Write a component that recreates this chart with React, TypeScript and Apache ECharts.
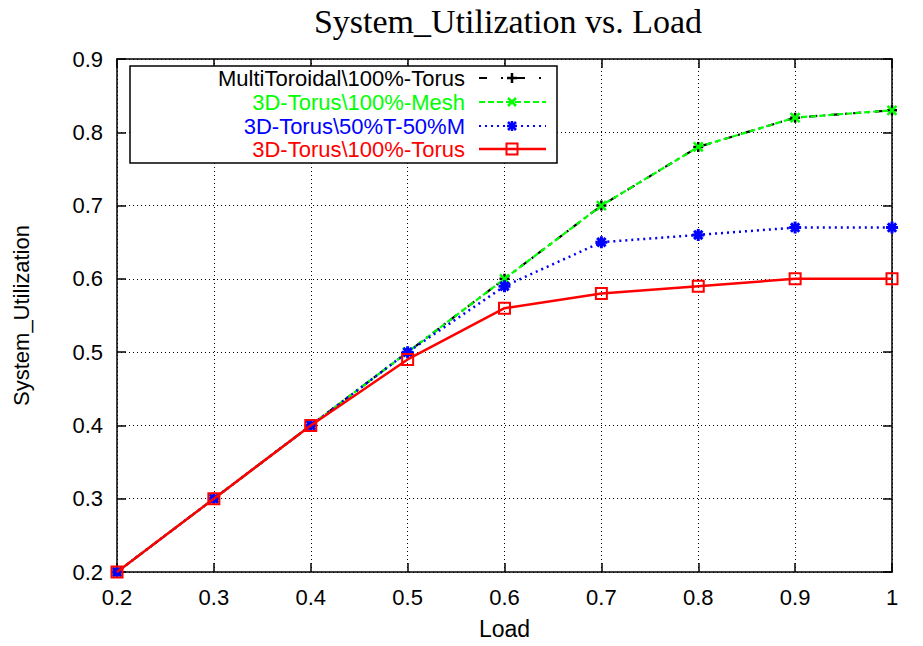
import React, { useEffect, useRef } from "react";
import * as echarts from "echarts";

const loads = [0.2, 0.3, 0.4, 0.5, 0.6, 0.7, 0.8, 0.9, 1.0];
const multiToroidal = [0.2, 0.3, 0.4, 0.5, 0.6, 0.7, 0.78, 0.82, 0.83];
const torusMesh = [0.2, 0.3, 0.4, 0.5, 0.6, 0.7, 0.78, 0.82, 0.83];
const torusHalf = [0.2, 0.3, 0.4, 0.5, 0.59, 0.65, 0.66, 0.67, 0.67];
const torusTorus = [0.2, 0.3, 0.4, 0.49, 0.56, 0.58, 0.59, 0.6, 0.6];
const seriesNames = [
  "MultiToroidal\\100%-Torus",
  "3D-Torus\\100%-Mesh",
  "3D-Torus\\50%T-50%M",
  "3D-Torus\\100%-Torus",
];
const seriesColors = ["#000000", "#00ff00", "#0000ff", "#ff0000"];
const titleText = "System_Utilization vs. Load";
const xName = "Load";
const yName = "System_Utilization";

const PLUS = "path://M0,5L10,5M5,0L5,10";
const CROSS = "path://M0,0L10,10M0,10L10,0";
const STAR = "path://M0,5L10,5M5,0L5,10M1.5,1.5L8.5,8.5M1.5,8.5L8.5,1.5";

const SANS = "Liberation Sans";
const FS = 22;

export default function App() {
  const ref = useRef<HTMLDivElement>(null);
  useEffect(() => {
    document.body.style.margin = "0";
    const chart = echarts.init(ref.current!, null, { renderer: "svg" });
    const mk = (arr: number[]) => loads.map((x, i) => [x, arr[i]]);
    const fmt = (v: number) => String(Math.round(v * 10) / 10);

    const axisCommon = {
      type: "value" as const,
      min: 0.2,
      interval: 0.1,
      axisLine: { show: true, lineStyle: { color: "#000", width: 1.5 } },
      axisTick: { show: true, inside: true, length: 9, lineStyle: { color: "#000", width: 1.5 } },
    };

    // legend graphics
    const lgX0 = 130, lgY0 = 66, lgW = 427, lgH = 97;
    const rowY = [78, 102, 126, 149];
    const textRight = 465;
    const sx0 = 479, sx1 = 546, mxc = 512;
    const graphics: any[] = [
      {
        type: "text",
        x: 508,
        y: 4,
        style: {
          text: titleText,
          font: "34px 'Liberation Serif'",
          fill: "#000",
          textAlign: "center",
          textVerticalAlign: "top",
        },
      },
      {
        type: "rect",
        shape: { x: lgX0, y: lgY0, width: lgW, height: lgH },
        style: { fill: "#fff", stroke: "#000", lineWidth: 1.5 },
        z: 100,
      },
    ];
    const dashes: any[] = [[8, 14, 2, 14], [6, 3], [2, 4], null];
    seriesNames.forEach((name, i) => {
      const y = rowY[i];
      graphics.push({
        type: "text",
        x: textRight,
        y,
        z: 101,
        style: {
          text: name,
          font: `${FS}px '${SANS}'`,
          fill: seriesColors[i],
          textAlign: "right",
          textVerticalAlign: "middle",
        },
      });
      graphics.push({
        type: "line",
        z: 101,
        shape: { x1: sx0, y1: y, x2: sx1, y2: y },
        style: { stroke: seriesColors[i], lineWidth: i === 3 ? 2.5 : 2.2, lineDash: dashes[i] || undefined },
      });
      const c = seriesColors[i];
      const s = 5;
      if (i === 0 || i === 2) {
        graphics.push({ type: "line", z: 102, shape: { x1: mxc - s, y1: y, x2: mxc + s, y2: y }, style: { stroke: c, lineWidth: 2.5 } });
        graphics.push({ type: "line", z: 102, shape: { x1: mxc, y1: y - s, x2: mxc, y2: y + s }, style: { stroke: c, lineWidth: 2.5 } });
      }
      if (i === 1 || i === 2) {
        const d = i === 2 ? 4 : 4;
        graphics.push({ type: "line", z: 102, shape: { x1: mxc - d, y1: y - d, x2: mxc + d, y2: y + d }, style: { stroke: c, lineWidth: 2.5 } });
        graphics.push({ type: "line", z: 102, shape: { x1: mxc - d, y1: y + d, x2: mxc + d, y2: y - d }, style: { stroke: c, lineWidth: 2.5 } });
      }
      if (i === 3) {
        graphics.push({ type: "rect", z: 102, shape: { x: mxc - 5.5, y: y - 5.5, width: 11, height: 11 }, style: { fill: "none", stroke: c, lineWidth: 2 } });
      }
    });

    const series: any[] = [
      {
        name: seriesNames[0],
        type: "line",
        data: mk(multiToroidal),
        symbol: PLUS,
        symbolSize: 10,
        itemStyle: { color: "#000", borderColor: "#000", borderWidth: 2.5 },
        lineStyle: { color: "#000", width: 2.2, type: [8, 6, 2, 6] },
        z: 2,
      },
      {
        name: seriesNames[1],
        type: "line",
        data: mk(torusMesh),
        symbol: CROSS,
        symbolSize: 9,
        itemStyle: { color: "#00ff00", borderColor: "#00ff00", borderWidth: 2.5 },
        lineStyle: { color: "#00ff00", width: 2.2, type: [6, 3] },
        z: 3,
      },
      {
        name: seriesNames[2],
        type: "line",
        data: mk(torusHalf),
        symbol: STAR,
        symbolSize: 12,
        itemStyle: { color: "#0000ff", borderColor: "#0000ff", borderWidth: 3 },
        lineStyle: { color: "#0000ff", width: 2.5, type: [2, 4] },
        z: 4,
      },
      {
        name: seriesNames[3],
        type: "line",
        data: mk(torusTorus),
        symbol: "rect",
        symbolSize: 11,
        itemStyle: { color: "rgba(0,0,0,0)", borderColor: "#ff0000", borderWidth: 2 },
        lineStyle: { color: "#ff0000", width: 2.5 },
        z: 5,
      },
    ];
    series.forEach((s) => {
      s.animation = false;
      s.emphasis = { disabled: true };
      s.xAxisIndex = 0;
      s.yAxisIndex = 0;
    });

    chart.setOption({
      animation: false,
      backgroundColor: "#fff",
      grid: { left: 117, right: 31, top: 59, bottom: 74 },
      xAxis: [
        {
          ...axisCommon,
          max: 1.0,
          position: "bottom",
          name: xName,
          nameLocation: "middle",
          nameGap: 45,
          nameTextStyle: { fontFamily: SANS, fontSize: 23, color: "#000" },
          axisLabel: { fontFamily: SANS, fontSize: FS, color: "#000", margin: 14, formatter: fmt },
          splitLine: { show: true, lineStyle: { color: "#000", width: 1, type: [1, 3] } },
        },
        {
          ...axisCommon,
          max: 1.0,
          position: "top",
          axisLabel: { show: false },
          splitLine: { show: false },
        },
      ],
      yAxis: [
        {
          ...axisCommon,
          max: 0.9,
          position: "left",
          name: yName,
          nameLocation: "middle",
          nameGap: 85,
          nameTextStyle: { fontFamily: SANS, fontSize: FS, color: "#000" },
          axisLabel: { fontFamily: SANS, fontSize: FS, color: "#000", margin: 14, formatter: (v: number) => v.toFixed(1) },
          splitLine: { show: true, lineStyle: { color: "#000", width: 1, type: [1, 3] } },
        },
        {
          ...axisCommon,
          max: 0.9,
          position: "right",
          axisLabel: { show: false },
          splitLine: { show: false },
        },
      ],
      series,
      graphic: graphics,
    });
    return () => chart.dispose();
  }, []);
  return <div ref={ref} style={{ position: "fixed", left: 0, top: 0, width: 923, height: 646 }} />;
}
